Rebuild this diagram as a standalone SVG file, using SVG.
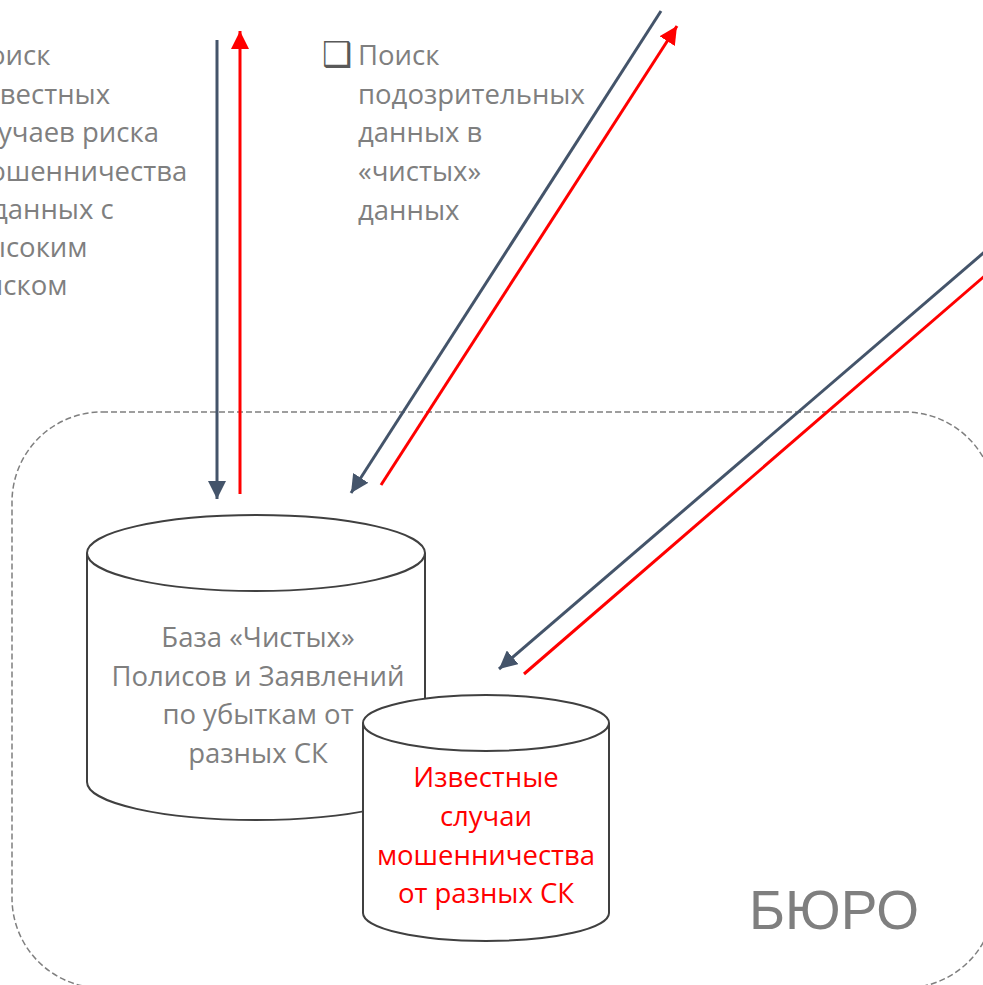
<svg xmlns="http://www.w3.org/2000/svg" width="983" height="985" viewBox="0 0 983 985">
<defs>
<style>
.note{font-family:"Open Sans","Noto Sans",sans-serif;font-size:27.5px;fill:#7f7f7f}
.red{font-family:"Open Sans","Noto Sans",sans-serif;font-size:27.5px;fill:#ff0000}
.cyl{fill:#ffffff;stroke:#404040;stroke-width:2}
.dk{stroke:#44546a;stroke-width:3;fill:none}
.rd{stroke:#ff0000;stroke-width:3;fill:none}
</style>
<marker id="ahd" markerUnits="userSpaceOnUse" markerWidth="18" markerHeight="18" viewBox="0 0 16 16" refX="16" refY="8" orient="auto"><path d="M0,0 L16,8 L0,16 Z" fill="#44546a"/></marker>
<marker id="ahr" markerUnits="userSpaceOnUse" markerWidth="18" markerHeight="18" viewBox="0 0 16 16" refX="16" refY="8" orient="auto"><path d="M0,0 L16,8 L0,16 Z" fill="#ff0000"/></marker>
</defs>
<g id="buro">
<rect x="12" y="412" width="983" height="576" rx="90" ry="90" fill="none" stroke="#7f7f7f" stroke-width="1.5" stroke-dasharray="6 3"/>
<text x="749" y="929" font-family="Liberation Sans, Arial, sans-serif" font-size="55" fill="#7f7f7f">БЮРО</text>
</g>
<g id="text-left">
<text x="-31" y="65" class="note">Поиск</text>
<text x="-31" y="104" class="note">известных</text>
<text x="-31" y="142" class="note">случаев риска</text>
<text x="-31" y="181" class="note">мошенничества</text>
<text x="-31" y="219" class="note">в данных с</text>
<text x="-31" y="257" class="note">высоким</text>
<text x="-31" y="295" class="note">риском</text>
</g>
<g id="text-mid">
<text x="322" y="66" font-family="DejaVu Sans, sans-serif" font-size="34" fill="#595959">❑</text>
<text x="358" y="65" class="note">Поиск</text>
<text x="358" y="104" class="note">подозрительных</text>
<text x="358" y="142" class="note">данных в</text>
<text x="358" y="181" class="note">«чистых»</text>
<text x="358" y="220" class="note">данных</text>
</g>
<g id="connectors">
<line x1="217" y1="40" x2="217" y2="499" class="dk" marker-end="url(#ahd)"/>
<line x1="240" y1="494" x2="240" y2="31" class="rd" marker-end="url(#ahr)"/>
<line x1="661" y1="11" x2="351" y2="493" class="dk" marker-end="url(#ahd)"/>
<line x1="381" y1="485" x2="677" y2="26" class="rd" marker-end="url(#ahr)"/>
<line x1="995" y1="243" x2="499" y2="669" class="dk" marker-end="url(#ahd)"/>
<line x1="524" y1="674" x2="995" y2="267" class="rd"/>
</g>
<g id="db-clean">
<path class="cyl" d="M87,553 L87,782 A169,38 0 0 0 425,782 L425,553"/>
<ellipse class="cyl" cx="256" cy="553" rx="169" ry="38"/>
<text x="258" y="647" text-anchor="middle" class="note">База «Чистых»</text>
<text x="258" y="686" text-anchor="middle" class="note">Полисов и Заявлений</text>
<text x="258" y="724" text-anchor="middle" class="note">по убыткам от</text>
<text x="258" y="763" text-anchor="middle" class="note">разных СК</text>
</g>
<g id="db-fraud">
<path class="cyl" d="M363,723 L363,913 A123,28 0 0 0 609,913 L609,723"/>
<ellipse class="cyl" cx="486" cy="723" rx="123" ry="28"/>
<text x="486" y="787" text-anchor="middle" class="red">Известные</text>
<text x="486" y="826" text-anchor="middle" class="red">случаи</text>
<text x="486" y="865" text-anchor="middle" class="red">мошенничества</text>
<text x="486" y="903" text-anchor="middle" class="red">от разных СК</text>
</g>
</svg>
